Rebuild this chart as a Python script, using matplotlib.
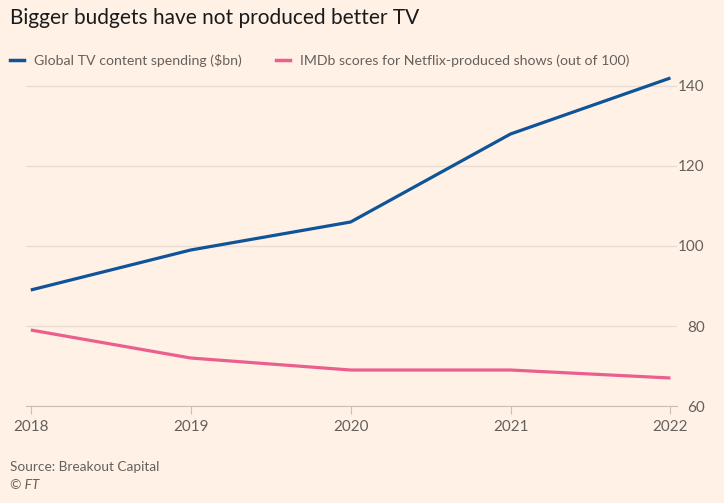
import matplotlib.pyplot as plt
from matplotlib.lines import Line2D

# values
years = [2018, 2019, 2020, 2021, 2022]
spending = [89, 99, 106, 128, 142]
imdb = [79, 72, 69, 69, 67]
yticks = [60, 80, 100, 120, 140]

bg = "#FFF1E5"
blue = "#0F5499"
pink = "#EB5F8E"
grey = "#66605C"

plt.rcParams["font.family"] = ["Lato", "DejaVu Sans"]

fig = plt.figure(figsize=(7.24, 5.03), dpi=100, facecolor=bg)
ax = fig.add_axes([0.0359, 0.1928, 0.899, 0.684], facecolor=bg)

ax.plot(years, spending, color=blue, lw=2.3, solid_capstyle="butt")
ax.plot(years, imdb, color=pink, lw=2.3, solid_capstyle="butt")

ax.set_xlim(2017.97, 2022.04)
ax.set_ylim(60, 146)
ax.set_yticks(yticks)
ax.set_xticks(years)
ax.set_xticklabels([str(y) for y in years])

ax.yaxis.tick_right()
ax.grid(axis="y", color="#E9DDD2", lw=1)
ax.set_axisbelow(True)
for s in ["top", "right", "left"]:
    ax.spines[s].set_visible(False)
ax.spines["bottom"].set_color("#C9BFB6")
ax.tick_params(axis="y", length=0, pad=20, labelsize=11, labelcolor=grey)
ax.tick_params(axis="x", length=6, color="#C9BFB6", pad=4, labelsize=11, labelcolor=grey)
for lbl in ax.get_yticklabels():
    lbl.set_horizontalalignment("right")

fig.text(0.014, 0.965, "Bigger budgets have not produced better TV", fontsize=15,
         color="#1A1A1A", va="center", ha="left")

handles = [Line2D([], [], color=blue, lw=2.5),
           Line2D([], [], color=pink, lw=2.5)]
leg = fig.legend(handles, ["Global TV content spending ($bn)",
                           "IMDb scores for Netflix-produced shows (out of 100)"],
                 loc="center left", bbox_to_anchor=(0.0, 0.879), ncol=2, frameon=False,
                 fontsize=10.2, handlelength=1.0, handletextpad=0.7, columnspacing=2.4,
                 labelcolor=grey, borderaxespad=0.3)

fig.text(0.014, 0.071, "Source: Breakout Capital", fontsize=9.8, color=grey, va="center")
fig.text(0.014, 0.036, "© FT", fontsize=9.8, color=grey, va="center", style="italic")

fig.savefig("out.png", dpi=100, facecolor=bg)
